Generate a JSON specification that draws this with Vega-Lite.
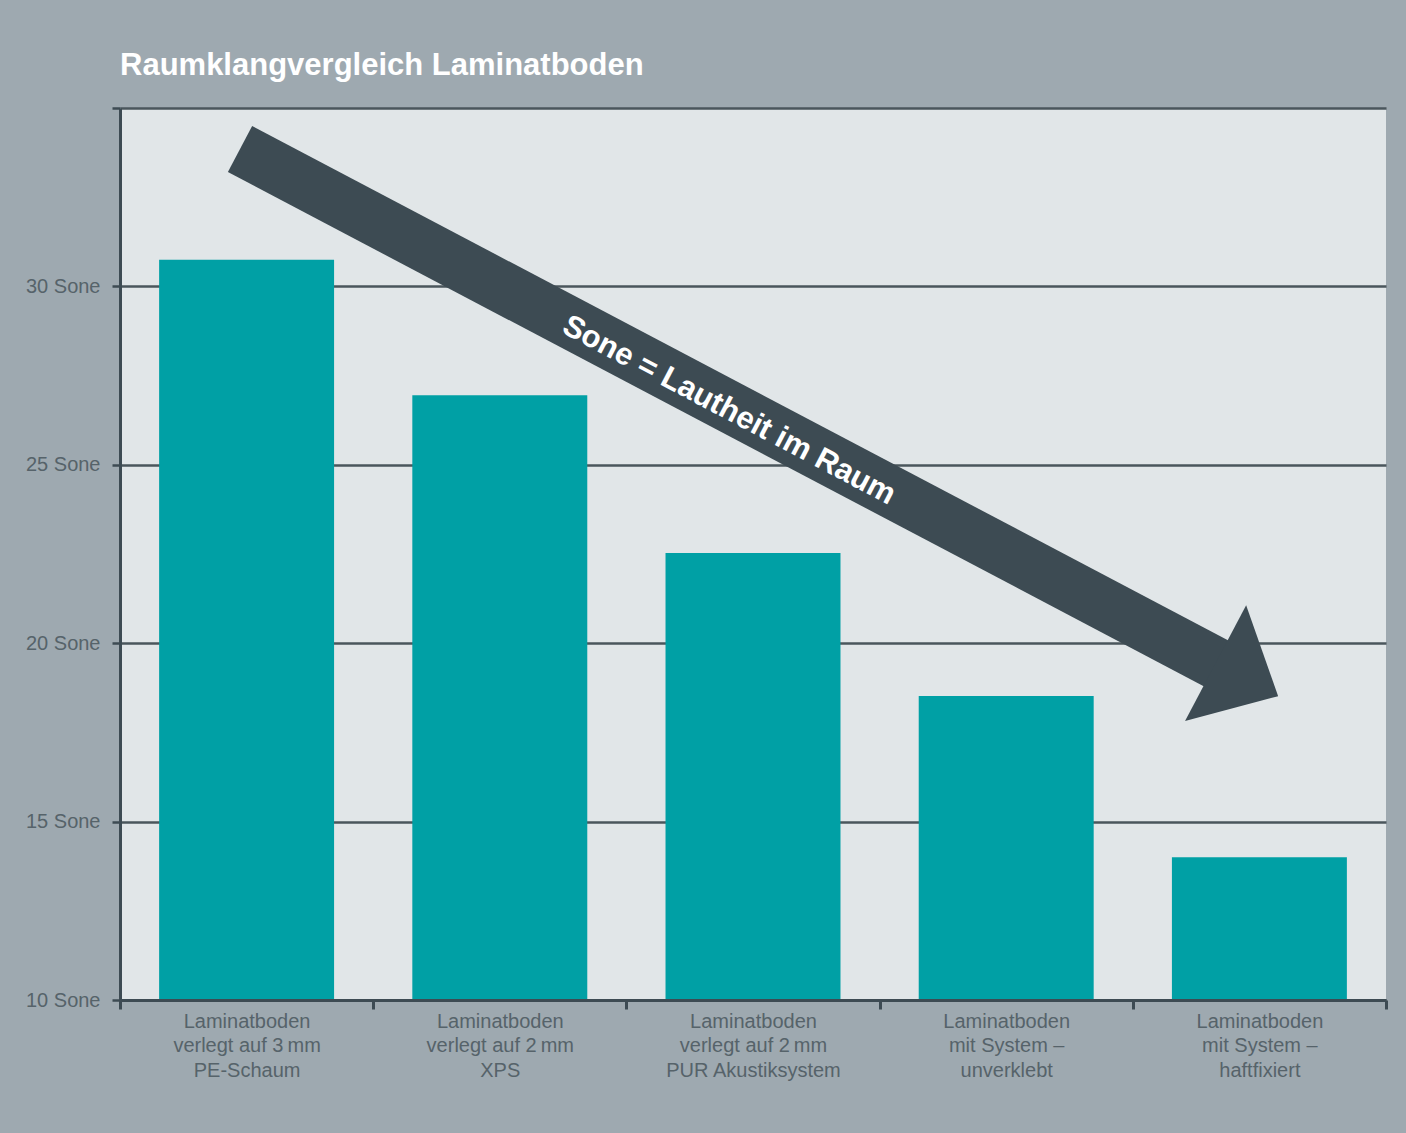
{
  "$schema": "https://vega.github.io/schema/vega-lite/v6.json",
  "width": 1266,
  "height": 892,
  "autosize": {"type": "none"},
  "padding": {"left": 120, "top": 108, "right": 20, "bottom": 133},
  "background": "#9ea9b0",
  "view": {"fill": "#e1e6e8", "stroke": null},
  "title": {
    "text": "Raumklangvergleich Laminatboden",
    "anchor": "start",
    "frame": "group",
    "color": "#ffffff",
    "font": "Liberation Sans",
    "fontSize": 31,
    "fontWeight": "bold",
    "offset": 25
  },
  "datasets": {
    "bars": [
      {"Bodenaufbau": "Laminatboden\nverlegt auf 3\u2009mm\nPE-Schaum", "Lautheit": 30.75},
      {"Bodenaufbau": "Laminatboden\nverlegt auf 2\u2009mm\nXPS", "Lautheit": 26.95},
      {"Bodenaufbau": "Laminatboden\nverlegt auf 2\u2009mm\nPUR Akustiksystem", "Lautheit": 22.53},
      {"Bodenaufbau": "Laminatboden\nmit System –\nunverklebt", "Lautheit": 18.52},
      {"Bodenaufbau": "Laminatboden\nmit System –\nhaftfixiert", "Lautheit": 14.0}
    ],
    "arrow": [
      {"teil": "Schaft", "pos": 0.474, "sone": 33.85},
      {"teil": "Schaft", "pos": 4.384, "sone": 19.23},
      {"teil": "Spitze", "pos": 4.327, "sone": 19.44},
      {"teil": "Text", "pos": 2.405, "sone": 26.52, "label": "Sone = Lautheit im Raum"}
    ]
  },
  "layer": [
    {
      "data": {"name": "bars"},
      "mark": {"type": "bar", "color": "#00a0a5", "width": {"band": 0.691}},
      "encoding": {
        "x": {
          "field": "Bodenaufbau",
          "type": "nominal",
          "sort": null,
          "scale": {"paddingInner": 0, "paddingOuter": 0},
          "axis": {
            "title": null,
            "labelAngle": 0,
            "labelExpr": "split(datum.label, '\\n')",
            "labelFont": "Liberation Sans",
            "labelFontSize": 20,
            "labelColor": "#56636a",
            "labelLineHeight": 24.5,
            "labelBaseline": "top",
            "labelPadding": 2,
            "labelLimit": 0,
            "tickBand": "extent",
            "tickSize": 9,
            "tickWidth": 3,
            "tickColor": "#3d4b53",
            "domainColor": "#3d4b53",
            "domainWidth": 3,
            "zindex": 1
          }
        },
        "y": {
          "field": "Lautheit",
          "type": "quantitative",
          "scale": {"domain": [10, 35], "zero": false, "nice": false},
          "axis": {
            "title": null,
            "values": [10, 15, 20, 25, 30, 35],
            "labelExpr": "datum.value === 35 ? '' : datum.value + ' Sone'",
            "labelFont": "Liberation Sans",
            "labelFontSize": 20,
            "labelColor": "#56636a",
            "labelPadding": 12,
            "tickSize": 8,
            "tickWidth": 2.5,
            "tickColor": "#3d4b53",
            "domainColor": "#3d4b53",
            "domainWidth": 3,
            "grid": true,
            "gridColor": "#4a565c",
            "gridWidth": 2.5,
            "zindex": 0
          }
        },
        "y2": {"datum": 10}
      }
    },
    {
      "data": {"name": "arrow"},
      "transform": [{"filter": "datum.teil === 'Schaft'"}],
      "mark": {"type": "line", "color": "#3d4b53", "strokeWidth": 52, "strokeCap": "butt", "strokeJoin": "bevel"},
      "encoding": {
        "x": {"field": "pos", "type": "quantitative", "scale": {"domain": [0, 5], "nice": false, "zero": false}, "axis": null},
        "y": {"field": "sone", "type": "quantitative"}
      }
    },
    {
      "data": {"name": "arrow"},
      "transform": [{"filter": "datum.teil === 'Spitze'"}],
      "mark": {"type": "point", "shape": "M0,-1L1.08,0L0,1Z", "size": 17161, "angle": 27.8, "filled": true, "color": "#3d4b53", "opacity": 1, "strokeWidth": 0},
      "encoding": {
        "x": {"field": "pos", "type": "quantitative", "scale": {"domain": [0, 5], "nice": false, "zero": false}, "axis": null},
        "y": {"field": "sone", "type": "quantitative"}
      }
    },
    {
      "data": {"name": "arrow"},
      "transform": [{"filter": "datum.teil === 'Text'"}],
      "mark": {"type": "text", "color": "#ffffff", "font": "Liberation Sans", "fontSize": 31, "fontWeight": "bold", "angle": 27.8, "align": "center", "baseline": "middle"},
      "encoding": {
        "x": {"field": "pos", "type": "quantitative", "scale": {"domain": [0, 5], "nice": false, "zero": false}, "axis": null},
        "y": {"field": "sone", "type": "quantitative"},
        "text": {"field": "label"}
      }
    }
  ],
  "resolve": {"scale": {"x": "independent"}}
}
